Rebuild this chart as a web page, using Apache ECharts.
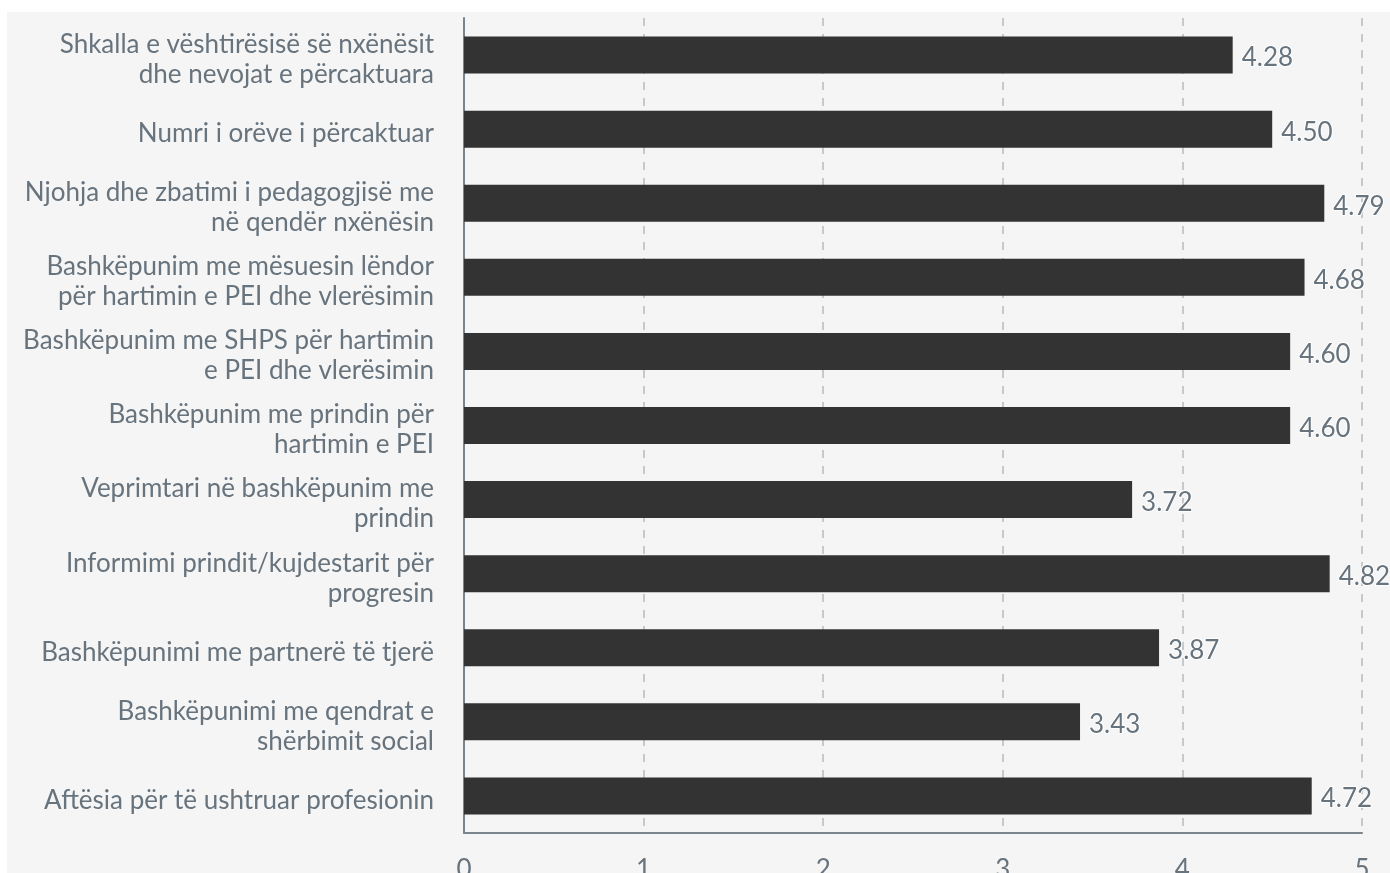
<!DOCTYPE html>
<html><head><meta charset="utf-8">
<script src="https://cdn.jsdelivr.net/npm/echarts@6/dist/echarts.min.js"></script>
<style>
html,body{margin:0;padding:0;background:#fff;overflow:hidden;width:1390px;height:873px;}
#c{position:absolute;left:7px;top:12px;width:1383px;height:900px;background:#f5f5f5;}
</style></head>
<body><div id="c"></div>
<script>
const categories = [
  "Shkalla e vështirësisë së nxënësit\ndhe nevojat e përcaktuara",
  "Numri i orëve i përcaktuar",
  "Njohja dhe zbatimi i pedagogjisë me\nnë qendër nxënësin",
  "Bashkëpunim me mësuesin lëndor\npër hartimin e PEI dhe vlerësimin",
  "Bashkëpunim me SHPS për hartimin\ne PEI dhe vlerësimin",
  "Bashkëpunim me prindin për\nhartimin e PEI",
  "Veprimtari në bashkëpunim me\nprindin",
  "Informimi prindit/kujdestarit për\nprogresin",
  "Bashkëpunimi me partnerë të tjerë",
  "Bashkëpunimi me qendrat e\nshërbimit social",
  "Aftësia për të ushtruar profesionin"
];
const values = [4.28, 4.50, 4.79, 4.68, 4.60, 4.60, 3.72, 4.82, 3.87, 3.43, 4.72];
const xTicks = [0, 1, 2, 3, 4, 5];

const txt = '#67737d';
const chart = echarts.init(document.getElementById('c'));
chart.setOption({
  backgroundColor: 'transparent',
  animation: false,
  textStyle: { fontFamily: 'Lato' },
  grid: { left: 457, top: 6, width: 898, height: 815, containLabel: false },
  xAxis: {
    type: 'value', min: xTicks[0], max: xTicks[xTicks.length - 1], interval: 1,
    axisLine: { show: true, lineStyle: { color: '#7a848c', width: 2 } },
    axisTick: { show: false },
    axisLabel: { color: txt, fontSize: 26, fontFamily: 'Lato', margin: 24 },
    splitLine: { show: true, lineStyle: { color: '#b5babe', type: [8, 8], width: 1.5 } }
  },
  yAxis: {
    type: 'category', data: categories, inverse: true,
    axisLine: { show: true, lineStyle: { color: '#7a848c', width: 2 } },
    axisTick: { show: false },
    axisLabel: {
      color: txt, fontSize: 26, fontFamily: 'Lato', margin: 30, align: 'right',
      formatter: v => '{a|' + v.split('\n').join('}\n{a|') + '}',
      rich: { a: { fontSize: 26, fontFamily: 'Lato', color: txt, lineHeight: 30, padding: [9, 0, 0, 0] } }
    }
  },
  series: [{
    type: 'bar', data: values, barWidth: 37,
    itemStyle: { color: '#333333' },
    label: {
      show: true, position: 'right', distance: 9,
      formatter: p => '{v|' + p.value.toFixed(2) + '}',
      rich: { v: { fontSize: 26, fontFamily: 'Lato', color: txt, padding: [6, 0, 0, 0], textBorderColor: '#ffffff', textBorderWidth: 2 } },
      color: txt, fontSize: 26, fontFamily: 'Lato',
      textBorderColor: '#ffffff', textBorderWidth: 2
    }
  }]
});
</script></body></html>
